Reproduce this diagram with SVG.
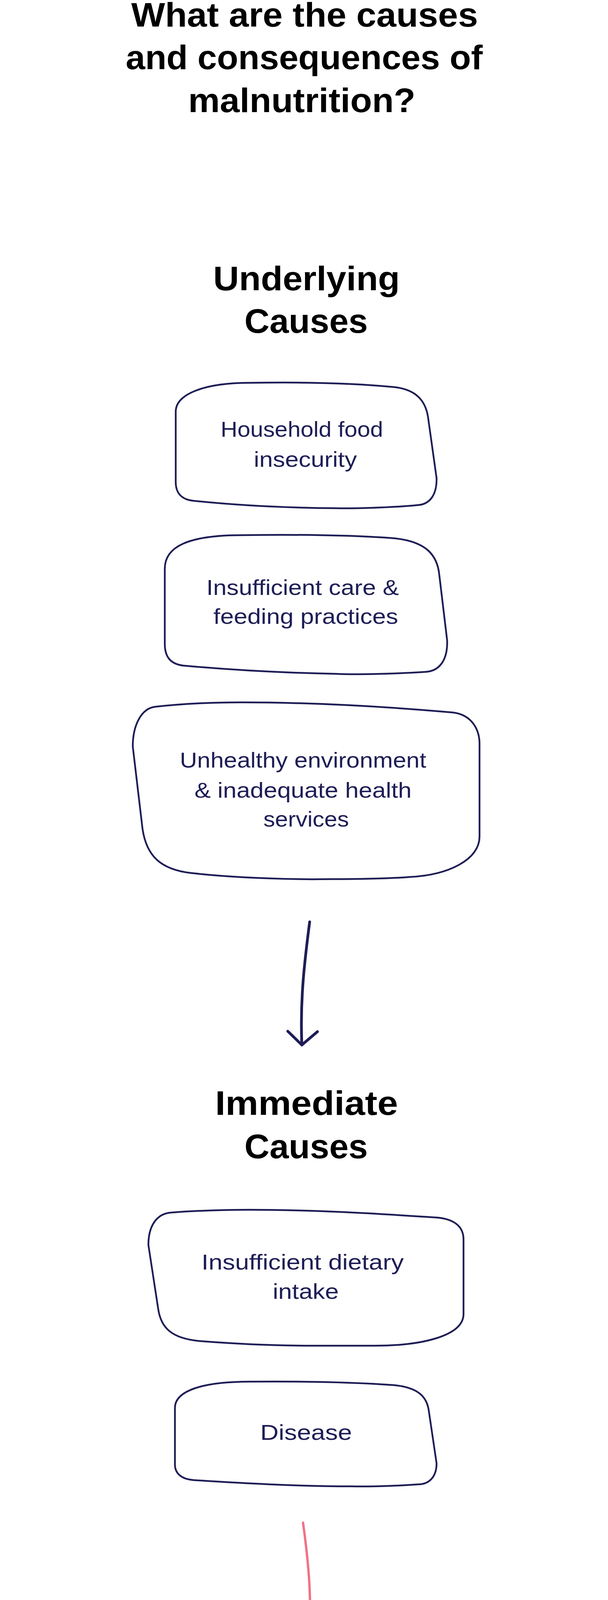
<svg xmlns="http://www.w3.org/2000/svg" width="1557" height="6918" viewBox="0 0 1557 6918">
<style>
.h{font-family:"Liberation Sans",Arial,sans-serif;font-weight:700;font-size:87px;fill:#000;text-anchor:middle}
.t{font-family:"Liberation Sans",Arial,sans-serif;font-size:56px;fill:#1E1D56;text-anchor:middle}
.w{font-family:"Liberation Sans",Arial,sans-serif;font-size:56px;fill:#fff;text-anchor:middle}
.wb{font-family:"Liberation Sans",Arial,sans-serif;font-weight:700;font-size:88px;fill:#fff;text-anchor:middle}
.ob{fill:#fff;stroke:#1E1D56;stroke-width:4.5;stroke-linejoin:round}
.nb{fill:#1E1D56}
.pk{fill:#F27186}
.an{fill:none;stroke:#1E1D56;stroke-width:7;stroke-linecap:round;stroke-linejoin:round}
.ap{fill:none;stroke:#F27186;stroke-width:6;stroke-linecap:round;stroke-linejoin:round}
.ul{fill:none;stroke:#F27186;stroke-width:4;stroke-linecap:round}
</style>
<rect width="1557" height="6918" fill="#fff"/>
<g id="title">
<text class="h" x="780" y="68" textLength="888" lengthAdjust="spacingAndGlyphs">What are the causes</text>
<text class="h" x="779" y="177" textLength="914" lengthAdjust="spacingAndGlyphs">and consequences of</text>
<text class="h" x="773" y="287" textLength="582" lengthAdjust="spacingAndGlyphs">malnutrition?</text>
</g>
<g id="heading-underlying">
<text class="h" x="785" y="743" textLength="478" lengthAdjust="spacingAndGlyphs">Underlying</text>
<text class="h" x="784" y="852" textLength="316" lengthAdjust="spacingAndGlyphs">Causes</text>
</g>
<g id="node-household">
<path class="ob" d="M 450 1054 C 450 1010, 520 980, 640 980 C 760 978, 900 980, 1010 991 C 1070 998, 1090 1030, 1096 1067 L 1118 1224 C 1119 1265, 1102 1291, 1070 1293 C 1000 1300, 900 1302, 860 1301 C 720 1300, 600 1293, 495 1282 C 465 1279, 450 1262, 450 1234 Z"/>
<text class="t" x="773" y="1118" textLength="416" lengthAdjust="spacingAndGlyphs">Household food</text>
<text class="t" x="782" y="1195" textLength="264" lengthAdjust="spacingAndGlyphs">insecurity</text>
</g>
<g id="node-care">
<path class="ob" d="M 422 1456 C 422 1400, 480 1370, 620 1370 C 760 1368, 900 1370, 1010 1378 C 1090 1386, 1120 1420, 1125 1472 L 1145 1639 C 1147 1690, 1125 1718, 1090 1720 C 1000 1726, 900 1727, 860 1725 C 700 1722, 580 1714, 470 1704 C 435 1700, 422 1680, 422 1648 Z"/>
<text class="t" x="775" y="1523" textLength="493" lengthAdjust="spacingAndGlyphs">Insufficient care &amp;</text>
<text class="t" x="783" y="1597" textLength="473" lengthAdjust="spacingAndGlyphs">feeding practices</text>
</g>
<g id="node-environment">
<path class="ob" d="M 340 1911 C 340 1860, 360 1812, 400 1809 C 480 1800, 560 1798, 620 1798 C 800 1798, 1000 1810, 1160 1824 C 1210 1830, 1228 1870, 1228 1904 L 1228 2142 C 1228 2200, 1150 2240, 1050 2245 C 960 2252, 860 2250, 800 2251 C 690 2250, 580 2245, 490 2235 C 410 2226, 375 2190, 365 2122 Z"/>
<text class="t" x="776" y="1965" textLength="631" lengthAdjust="spacingAndGlyphs">Unhealthy environment</text>
<text class="t" x="776" y="2042" textLength="556" lengthAdjust="spacingAndGlyphs">&amp; inadequate health</text>
<text class="t" x="784" y="2116" textLength="219" lengthAdjust="spacingAndGlyphs">services</text>
</g>
<g id="heading-immediate">
<text class="h" x="785" y="2854" textLength="468" lengthAdjust="spacingAndGlyphs">Immediate</text>
<text class="h" x="784" y="2965" textLength="316" lengthAdjust="spacingAndGlyphs">Causes</text>
</g>
<g id="node-dietary">
<path class="ob" d="M 380 3187 C 380 3140, 400 3106, 440 3104 C 520 3098, 580 3097, 640 3097 C 820 3097, 980 3108, 1120 3117 C 1170 3122, 1187 3145, 1187 3173 L 1187 3364 C 1187 3420, 1080 3445, 960 3445 L 800 3445 C 700 3445, 600 3440, 510 3433 C 440 3426, 412 3400, 405 3350 Z"/>
<text class="t" x="775" y="3250" textLength="518" lengthAdjust="spacingAndGlyphs">Insufficient dietary</text>
<text class="t" x="783" y="3325" textLength="169" lengthAdjust="spacingAndGlyphs">intake</text>
</g>
<g id="node-disease">
<path class="ob" d="M 448 3604 C 448 3560, 520 3537, 640 3537 C 760 3536, 900 3538, 1010 3546 C 1070 3552, 1093 3575, 1098 3611 L 1118 3746 C 1118 3780, 1100 3800, 1070 3800 C 1000 3805, 930 3806, 900 3805 C 760 3805, 620 3797, 495 3789 C 462 3786, 448 3770, 448 3750 Z"/>
<text class="t" x="784" y="3686" textLength="235" lengthAdjust="spacingAndGlyphs">Disease</text>
</g>
<g id="node-undernutrition">
<path class="pk" d="M 133 4365 C 133 4300, 170 4262, 243 4258 C 450 4245, 650 4236, 900 4236 L 1180 4234 C 1260 4234, 1320 4260, 1360 4295 C 1400 4340, 1428 4400, 1435 4460 C 1436 4560, 1425 4660, 1390 4721 C 1360 4790, 1340 4830, 1250 4852 C 1100 4868, 950 4879, 800 4879 L 500 4879 C 400 4876, 330 4867, 247 4838 C 200 4820, 170 4800, 158 4785 C 140 4760, 133 4740, 133 4713 Z"/>
<text class="wb" x="771" y="4531" textLength="850" lengthAdjust="spacingAndGlyphs">Maternal and Child</text>
<text class="wb" x="784" y="4642" textLength="645" lengthAdjust="spacingAndGlyphs">Undernutrition</text>
</g>
<g id="heading-consequences">
<text class="h" x="784" y="5353" textLength="628" lengthAdjust="spacingAndGlyphs">Consequences</text>
</g>
<g id="node-shortterm">
<path class="nb" d="M 345 5599 C 345 5540, 400 5490, 470 5484 C 530 5474, 560 5472, 600 5472 L 780 5472 C 900 5472, 1000 5482, 1080 5491 C 1160 5505, 1188 5550, 1195 5620 L 1222 5867 C 1222 5940, 1200 5978, 1160 5980 C 1060 5990, 960 5992, 900 5991 C 700 5988, 550 5975, 405 5960 C 365 5955, 345 5920, 345 5877 Z"/>
<text class="w" x="784" y="5619" textLength="311" lengthAdjust="spacingAndGlyphs">Short-term</text>
<path class="ul" d="M 632 5673 C 700 5665, 760 5663, 800 5664 C 870 5664, 905 5668, 935 5675"/>
<text class="w" x="777" y="5767" textLength="552" lengthAdjust="spacingAndGlyphs">Mortality, Morbidity,</text>
<text class="w" x="784" y="5843" textLength="251" lengthAdjust="spacingAndGlyphs">Disability</text>
</g>
<g id="node-longterm">
<path class="nb" d="M 165 6244 C 163 6180, 180 6120, 250 6097 C 400 6078, 550 6073, 700 6073 C 900 6073, 1100 6080, 1300 6087 C 1360 6095, 1388 6140, 1390 6186 L 1400 6522 C 1400 6600, 1330 6660, 1200 6666 C 1080 6682, 900 6688, 800 6690 C 700 6693, 550 6690, 400 6683 C 290 6676, 230 6630, 210 6536 Z"/>
<text class="w" x="784" y="6244" textLength="855" lengthAdjust="spacingAndGlyphs">Long-term &amp; Intergenerational</text>
<path class="ul" d="M 397 6310 C 420 6300, 550 6297, 700 6297 C 900 6298, 1050 6304, 1170 6310"/>
<text class="w" x="777" y="6404" textLength="708" lengthAdjust="spacingAndGlyphs">Adult height, productivity,</text>
<text class="w" x="777" y="6480" textLength="833" lengthAdjust="spacingAndGlyphs">reproductive health, metabolic</text>
<text class="w" x="783" y="6556" textLength="750" lengthAdjust="spacingAndGlyphs">and cardiovascular disease</text>
</g>
<g id="connectors">
<path class="an" d="M 793 2360 C 780 2460, 768 2560, 773 2675"/>
<polyline class="an" points="737,2640 773,2675 813,2641"/>
<path class="ap" d="M 776 3898 C 790 4000, 800 4100, 790 4205"/>
<polyline class="ap" points="752,4170 790,4205 827,4170"/>
<path class="ap" d="M 790 4901 C 775 5000, 768 5100, 776 5209"/>
<polyline class="ap" points="740,5174 776,5209 815,5174"/>
</g>
</svg>
